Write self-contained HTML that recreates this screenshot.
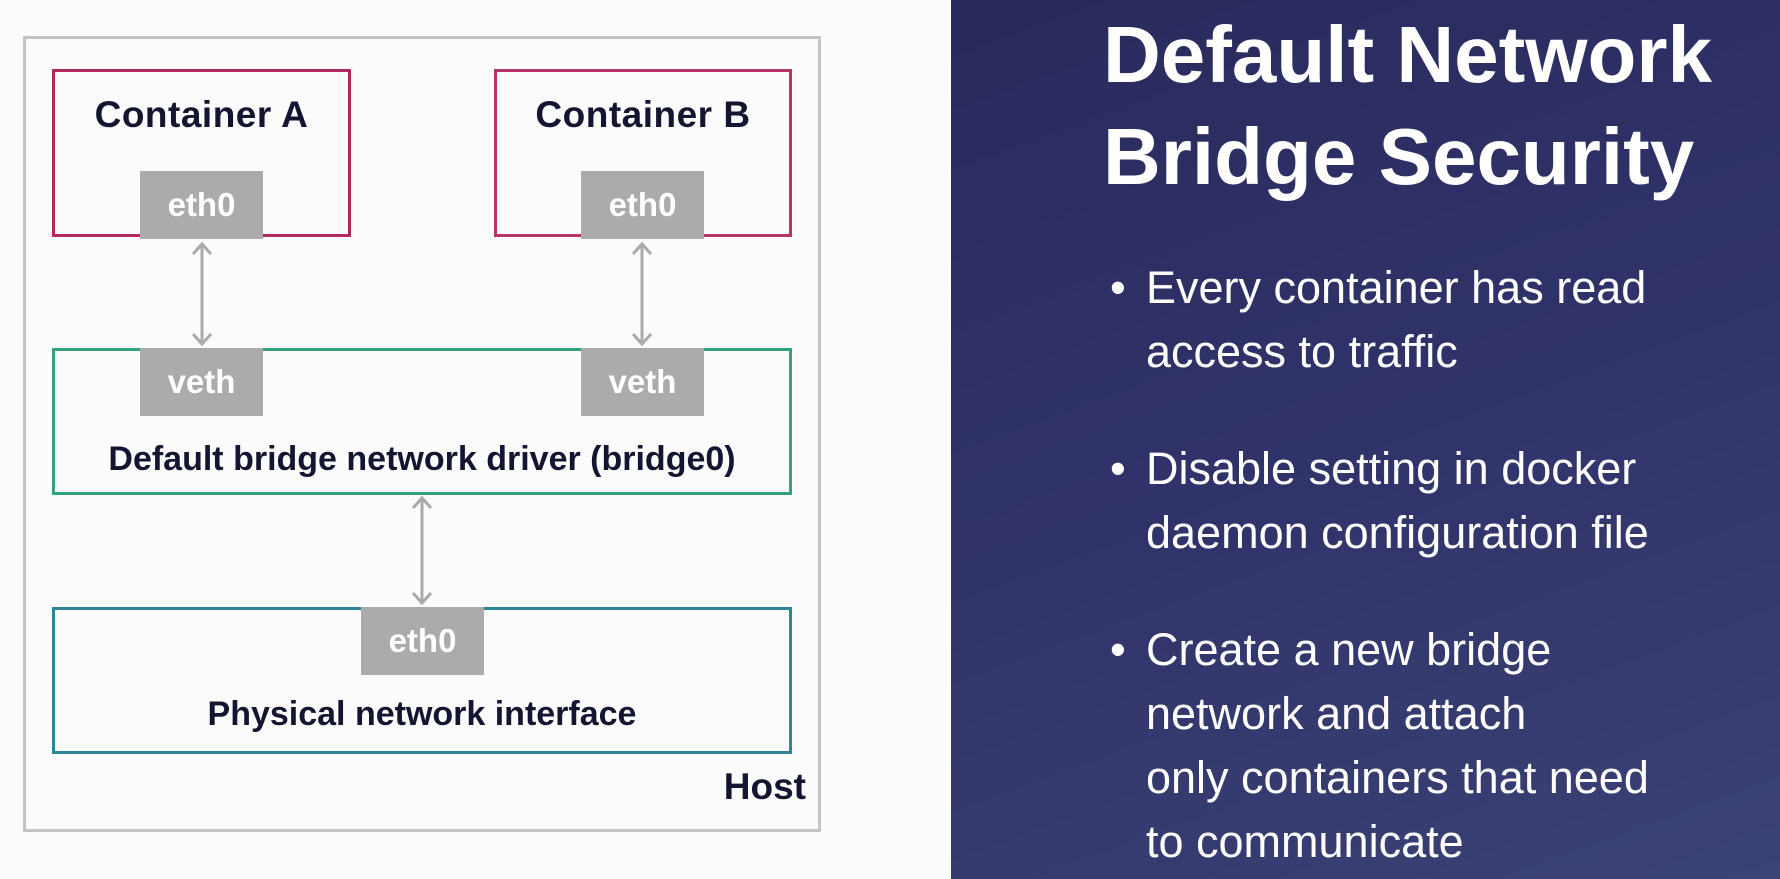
<!DOCTYPE html>
<html><head><meta charset="utf-8"><style>
html,body{margin:0;padding:0;width:1780px;height:879px;overflow:hidden;background:#fbfbfb;font-family:"Liberation Sans",sans-serif}
.a{position:absolute;box-sizing:border-box}
.g{background:#ababab;color:#fff;font-weight:bold;font-size:33px;display:flex;align-items:center;justify-content:center}
.t{color:#141530;font-weight:bold;text-align:center;white-space:nowrap}
#panel{left:951px;top:0;width:829px;height:879px;background:linear-gradient(160deg,#2a2a5c 0%,#30336a 50%,#3b4274 100%)}
.w{color:#fff;white-space:nowrap}
</style></head><body>
<div class="a" style="left:23px;top:36px;width:798px;height:796px;border:3px solid #c4c4c4"></div>
<div class="a" style="left:52px;top:69px;width:299px;height:168px;border:3px solid #b2285e"></div>
<div class="a" style="left:494px;top:69px;width:298px;height:168px;border:3px solid #b8336a"></div>
<div class="a t" style="left:52px;top:94px;width:299px;font-size:37px;letter-spacing:0.5px">Container A</div>
<div class="a t" style="left:494px;top:94px;width:298px;font-size:37px;letter-spacing:0.5px">Container B</div>
<div class="a" style="left:52px;top:348px;width:740px;height:147px;border:3px solid #35a07e"></div>
<div class="a t" style="left:52px;top:440px;width:740px;font-size:34px">Default bridge network driver (bridge0)</div>
<div class="a" style="left:52px;top:607px;width:740px;height:147px;border:3px solid #2b8796"></div>
<div class="a t" style="left:52px;top:695px;width:740px;font-size:34px">Physical network interface</div>
<div class="a t" style="left:680px;top:766px;width:126px;text-align:right;font-size:37px">Host</div>
<div class="a g" style="left:140px;top:171px;width:123px;height:68px">eth0</div>
<div class="a g" style="left:581px;top:171px;width:123px;height:68px">eth0</div>
<div class="a g" style="left:140px;top:348px;width:123px;height:68px">veth</div>
<div class="a g" style="left:581px;top:348px;width:123px;height:68px">veth</div>
<div class="a g" style="left:361px;top:607px;width:123px;height:68px">eth0</div>
<svg class="a" style="left:0;top:0" width="951" height="879">
<g stroke="#aaa" stroke-width="3" fill="none">
<path d="M202 244V344M193 254L202 244L211 254M193 334L202 344L211 334"/>
<path d="M642 244V344M633 254L642 244L651 254M633 334L642 344L651 334"/>
<path d="M422 498V603M413 508L422 498L431 508M413 593L422 603L431 593"/>
</g></svg>
<div class="a" id="panel"></div>
<div class="a w" style="left:1103px;top:4px;font-size:80px;font-weight:bold;line-height:102px">Default Network<br>Bridge Security</div>
<div class="a w" style="left:1110px;top:256px;font-size:45px;line-height:64px">
<div style="position:relative;padding-left:36px"><span style="position:absolute;left:0">•</span>Every container has read<br>access to traffic</div>
<div style="position:relative;padding-left:36px;margin-top:53px"><span style="position:absolute;left:0">•</span>Disable setting in docker<br>daemon configuration file</div>
<div style="position:relative;padding-left:36px;margin-top:53px"><span style="position:absolute;left:0">•</span>Create a new bridge<br>network and attach<br>only containers that need<br>to communicate</div>
</div>
</body></html>
